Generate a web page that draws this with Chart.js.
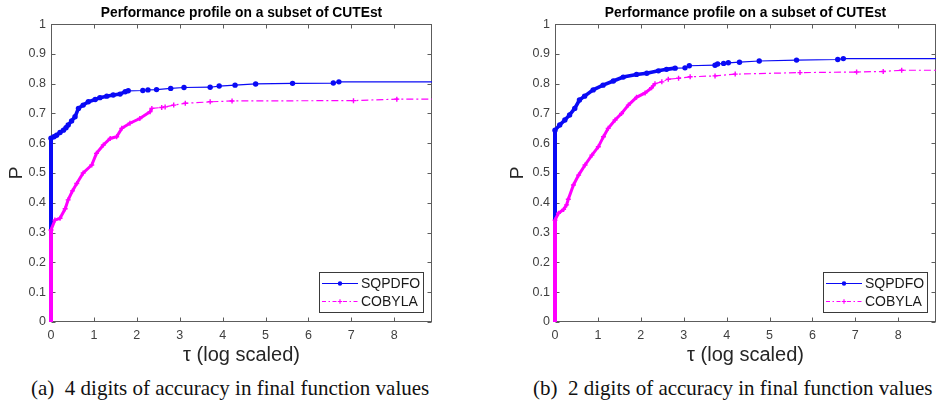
<!DOCTYPE html>
<html>
<head>
<meta charset="utf-8">
<script src="https://cdn.jsdelivr.net/npm/chart.js@4.4.0/dist/chart.umd.min.js"></script>
<style>
  body { margin: 0; background: #fff; width: 937px; height: 402px; overflow: hidden; position: relative; }
  canvas { position: absolute; top: 0; }
  #chartA { left: 0; }
  #chartB { left: 468px; }
  .cap { position: absolute; top: 376px; line-height: 24px; font-size: 21px; font-family: "Liberation Serif", "Times New Roman", serif; color: #111; white-space: pre; }
  #capA { left: 31px; }
  #capB { left: 533px; }
</style>
</head>
<body>
<canvas id="chartA" width="468" height="372"></canvas>
<canvas id="chartB" width="469" height="372"></canvas>
<div class="cap" id="capA">(a)  4 digits of accuracy in final function values</div>
<div class="cap" id="capB">(b)  2 digits of accuracy in final function values</div>
<script>
// tick labels
const xTicks = [0, 1, 2, 3, 4, 5, 6, 7, 8];
const yTicks = [0, 0.1, 0.2, 0.3, 0.4, 0.5, 0.6, 0.7, 0.8, 0.9, 1];
const tauMax = 8.88;

// (a) 4 digits of accuracy
const tauSqpA = [0, 0, 0.07, 0.13, 0.21, 0.29, 0.35, 0.40, 0.48, 0.56, 0.64, 0.75, 0.87, 1.03, 1.14, 1.30, 1.45, 1.61, 1.73, 1.80,
                 2.14, 2.26, 2.46, 2.79, 3.10, 3.71, 3.92, 4.29, 4.77, 5.63, 6.58, 6.71, 8.88];
const rhoSqpA = [0, 0.617, 0.622, 0.627, 0.636, 0.644, 0.652, 0.661, 0.675, 0.689, 0.717, 0.728, 0.739, 0.747, 0.753, 0.758, 0.762, 0.765, 0.773, 0.776,
                 0.777, 0.779, 0.780, 0.784, 0.787, 0.788, 0.792, 0.795, 0.799, 0.801, 0.802, 0.806, 0.806];
const tauCobA = [0, 0, 0.09, 0.21, 0.33, 0.40, 0.50, 0.60, 0.75, 0.95, 1.06, 1.22, 1.38, 1.53, 1.65, 1.84, 2.07, 2.31, 2.35, 2.58,
                 2.66, 2.86, 3.13, 3.71, 4.22, 7.05, 8.06, 8.88];
const rhoCobA = [0, 0.309, 0.342, 0.348, 0.38, 0.41, 0.44, 0.465, 0.50, 0.527, 0.566, 0.594, 0.616, 0.622, 0.65, 0.667, 0.683, 0.706, 0.717, 0.720,
                 0.722, 0.728, 0.734, 0.739, 0.742, 0.743, 0.748, 0.748];

// (b) 2 digits of accuracy
const tauSqpB = [0, 0, 0.11, 0.23, 0.34, 0.46, 0.57, 0.69, 0.89, 1.12, 1.36, 1.59, 1.90, 2.14, 2.41, 2.60, 2.80, 3.03, 3.13, 3.73,
                 3.79, 3.93, 4.04, 4.30, 4.76, 5.63, 6.59, 6.72, 8.88];
const rhoSqpB = [0, 0.644, 0.661, 0.678, 0.695, 0.717, 0.745, 0.758, 0.779, 0.795, 0.809, 0.822, 0.831, 0.835, 0.843, 0.848, 0.852, 0.853, 0.860, 0.862,
                 0.866, 0.868, 0.870, 0.872, 0.876, 0.879, 0.881, 0.884, 0.884];
const tauCobB = [0, 0, 0.08, 0.20, 0.27, 0.31, 0.43, 0.55, 0.70, 0.86, 1.01, 1.13, 1.24, 1.40, 1.55, 1.71, 1.90, 2.10, 2.25, 2.33,
                 2.49, 2.64, 2.88, 3.15, 3.73, 4.20, 5.71, 7.03, 7.65, 8.08, 8.88];
const rhoCobB = [0, 0.342, 0.365, 0.378, 0.393, 0.412, 0.46, 0.493, 0.527, 0.56, 0.588, 0.622, 0.65, 0.678, 0.70, 0.728, 0.754, 0.769, 0.786, 0.80,
                 0.806, 0.815, 0.818, 0.823, 0.826, 0.832, 0.837, 0.839, 0.841, 0.845, 0.845];

const BLUE = '#0a0af5';
const MAG  = '#ff00ff';
const AXIS = '#5c5c5c';
const TXT  = '#404040';
const COB_DASH = [7, 3, 2, 3];

Chart.defaults.font.family = '"Liberation Sans", Arial, sans-serif';

// MATLAB-like box with inward ticks on all four sides
const matlabBox = {
  id: 'matlabBox',
  beforeDatasetsDraw(chart) {
    const { ctx, chartArea: a, scales: { x, y } } = chart;
    const L = Math.round(a.left) + 0.5, R = Math.round(a.right) - 0.5;
    const T = Math.round(a.top) + 0.5, B = Math.round(a.bottom) - 0.5;
    ctx.save();
    ctx.strokeStyle = AXIS;
    ctx.lineWidth = 1;
    ctx.strokeRect(L, T, R - L, B - T);
    ctx.beginPath();
    x.ticks.forEach(t => {
      const px = Math.round(x.getPixelForValue(t.value)) + 0.5;
      ctx.moveTo(px, B); ctx.lineTo(px, B - 4);
      ctx.moveTo(px, T); ctx.lineTo(px, T + 4);
    });
    y.ticks.forEach(t => {
      const py = Math.round(y.getPixelForValue(t.value)) + 0.5;
      ctx.moveTo(L, py); ctx.lineTo(L + 4, py);
      ctx.moveTo(R, py); ctx.lineTo(R - 4, py);
    });
    ctx.stroke();
    ctx.restore();
  }
};

// legend box in the lower right corner of the axes
const insideLegend = {
  id: 'insideLegend',
  afterDatasetsDraw(chart) {
    const { ctx, chartArea: a } = chart;
    const w = 104, h = 40;
    const x0 = Math.round(a.right) - 9 - w, y0 = Math.round(a.bottom) - 10 - h;
    ctx.save();
    ctx.fillStyle = '#fff';
    ctx.fillRect(x0, y0, w, h);
    ctx.strokeStyle = '#3a3a3a';
    ctx.lineWidth = 1;
    ctx.strokeRect(x0 + 0.5, y0 + 0.5, w, h);

    const rows = [
      { label: 'SQPDFO', color: BLUE, dash: [], marker: 'dot', y: y0 + 11.5 },
      { label: 'COBYLA', color: MAG, dash: [4, 2.5, 1.5, 2.5], marker: 'cross', y: y0 + 29.5 }
    ];
    rows.forEach(r => {
      ctx.strokeStyle = r.color;
      ctx.lineWidth = 1.2;
      ctx.setLineDash(r.dash);
      ctx.beginPath();
      ctx.moveTo(x0 + 3, r.y); ctx.lineTo(x0 + 39, r.y);
      ctx.stroke();
      ctx.setLineDash([]);
      const mx = x0 + 21;
      if (r.marker === 'dot') {
        ctx.fillStyle = r.color;
        ctx.beginPath(); ctx.arc(mx, r.y, 2.2, 0, Math.PI * 2); ctx.fill();
      } else {
        ctx.beginPath();
        ctx.moveTo(mx - 2.2, r.y); ctx.lineTo(mx + 2.2, r.y);
        ctx.moveTo(mx, r.y - 2.2); ctx.lineTo(mx, r.y + 2.2);
        ctx.stroke();
      }
      ctx.fillStyle = '#1a1a1a';
      ctx.font = '14px "Liberation Sans", Arial, sans-serif';
      ctx.textBaseline = 'middle';
      ctx.fillText(r.label, x0 + 42, r.y + 0.5);
    });
    ctx.restore();
  }
};

function markerRadius(r) {
  return ctx => (ctx.dataIndex === 0 || ctx.dataIndex === ctx.dataset.data.length - 1) ? 0 : r;
}

// the first segment is the vertical jump at tau = 0; up to `dense` the markers overlap into a thick band
function segWidth(dense, thick) {
  return c => c.p0DataIndex === 0 ? 4 : (c.p1.parsed.x <= dense ? thick : 1.2);
}

function buildChart(id, sqpTau, sqpRho, cobTau, cobRho, g) {
  const sqp = sqpTau.map((t, i) => ({ x: t, y: sqpRho[i] }));
  const cob = cobTau.map((t, i) => ({ x: t, y: cobRho[i] }));

  return new Chart(document.getElementById(id), {
    type: 'line',
    data: {
      datasets: [
        {
          label: 'SQPDFO',
          data: sqp,
          order: 1,
          borderColor: BLUE,
          backgroundColor: BLUE,
          borderWidth: 1.2,
          pointRadius: markerRadius(2.7),
          pointBackgroundColor: BLUE,
          pointBorderWidth: 0,
          clip: false,
          segment: { borderWidth: segWidth(g.sqpDense, 3.6) }
        },
        {
          label: 'COBYLA',
          data: cob,
          order: 0,
          borderColor: MAG,
          backgroundColor: MAG,
          borderWidth: 1.2,
          borderDash: COB_DASH,
          pointStyle: 'cross',
          pointRadius: markerRadius(2.5),
          pointBorderColor: MAG,
          pointBorderWidth: 1.4,
          clip: false,
          segment: {
            borderWidth: segWidth(g.cobDense, 3),
            borderDash: c => (c.p0DataIndex === 0 || c.p1.parsed.x <= g.cobDense) ? [] : undefined
          }
        }
      ]
    },
    options: {
      responsive: false,
      animation: false,
      events: [],
      layout: { padding: { left: 0, right: g.right, top: 0, bottom: 0 } },
      plugins: {
        legend: { display: false },
        tooltip: { enabled: false },
        title: {
          display: true,
          text: 'Performance profile on a subset of CUTEst',
          fullSize: false,
          color: '#000',
          font: { size: 13.8, weight: 'bold' },
          padding: { top: 4.5, bottom: 3 }
        }
      },
      scales: {
        x: {
          type: 'linear',
          min: 0,
          max: tauMax,
          afterBuildTicks: s => { s.ticks = xTicks.map(v => ({ value: v })); },
          afterFit: s => { s.height = 50; },
          grid: { display: false, drawTicks: false },
          border: { display: false },
          ticks: { padding: 6, color: TXT, font: { size: 12.5 }, maxRotation: 0, autoSkip: false, callback: v => String(v) },
          title: { display: true, text: 'τ (log scaled)', color: '#262626', font: { size: 20 }, padding: { top: 0, bottom: 5 } }
        },
        y: {
          type: 'linear',
          min: 0,
          max: 1,
          afterBuildTicks: s => { s.ticks = yTicks.map(v => ({ value: v })); },
          afterFit: s => { s.width = g.yw; },
          grid: { display: false, drawTicks: false },
          border: { display: false },
          ticks: { padding: 5, color: TXT, font: { size: 12.5 }, autoSkip: false, callback: v => String(Math.round(v * 10) / 10) },
          title: { display: true, text: 'P', color: '#262626', font: { size: 19 }, padding: { top: g.pPad, bottom: 0 } }
        }
      }
    },
    plugins: [matlabBox, insideLegend]
  });
}

buildChart('chartA', tauSqpA, rhoSqpA, tauCobA, rhoCobA, { yw: 51, pPad: 5, right: 36, sqpDense: 1.8, cobDense: 2.35 });
buildChart('chartB', tauSqpB, rhoSqpB, tauCobB, rhoCobB, { yw: 87, pPad: 38, right: 1, sqpDense: 2.8, cobDense: 2.33 });
</script>
</body>
</html>
